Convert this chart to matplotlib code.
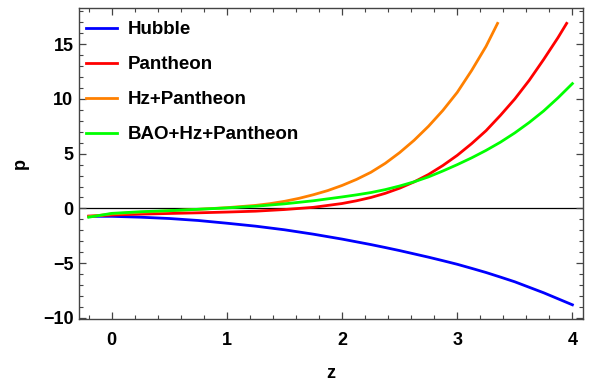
import numpy as np
import matplotlib
matplotlib.use("Agg")
import matplotlib.pyplot as plt
from matplotlib.ticker import MultipleLocator

plt.rcParams['font.family'] = ['Liberation Sans', 'DejaVu Sans']
plt.rcParams['font.weight'] = 'bold'

# values
z = [-0.2, 0.0, 0.25, 0.5, 0.75, 1.0, 1.25, 1.5, 1.75, 2.0, 2.125, 2.25, 2.375, 2.5,
     2.625, 2.75, 2.875, 3.0, 3.125, 3.25, 3.375, 3.5, 3.625, 3.75, 3.875, 4.0]
hubble = [-0.72, -0.72, -0.8, -0.92, -1.1, -1.35, -1.62, -1.95, -2.35, -2.8, -3.05, -3.3, -3.57, -3.85,
          -4.15, -4.45, -4.77, -5.1, -5.47, -5.85, -6.27, -6.7, -7.2, -7.7, -8.25, -8.8]
bao_hz_pan = [-0.8, -0.45, -0.3, -0.2, -0.08, 0.05, 0.2, 0.42, 0.7, 1.05, 1.24, 1.45, 1.72, 2.05,
              2.43, 2.88, 3.42, 4.0, 4.62, 5.3, 6.05, 6.9, 7.85, 8.9, 10.1, 11.4]

z_pan = [-0.2, 0.0, 0.25, 0.5, 0.75, 1.0, 1.25, 1.5, 1.75, 2.0, 2.125, 2.25, 2.375, 2.5,
         2.625, 2.75, 2.875, 3.0, 3.125, 3.25, 3.375, 3.5, 3.625, 3.75, 3.875, 3.95]
pantheon = [-0.7, -0.6, -0.52, -0.46, -0.4, -0.33, -0.25, -0.1, 0.1, 0.45, 0.7, 1.0, 1.38, 1.85,
            2.42, 3.1, 3.92, 4.85, 5.92, 7.1, 8.5, 10.0, 11.7, 13.6, 15.6, 16.9]

z_hz = [-0.2, 0.0, 0.25, 0.5, 0.75, 1.0, 1.25, 1.375, 1.5, 1.625, 1.75, 1.875, 2.0, 2.125, 2.25,
        2.375, 2.5, 2.625, 2.75, 2.875, 3.0, 3.125, 3.25, 3.35]
hz_pan = [-0.75, -0.5, -0.35, -0.22, -0.08, 0.07, 0.28, 0.44, 0.65, 0.92, 1.25, 1.63, 2.1, 2.65, 3.3,
          4.12, 5.1, 6.22, 7.5, 8.95, 10.6, 12.6, 14.8, 16.9]

fig = plt.figure(figsize=(5.92, 3.83), dpi=100)
ax = fig.add_axes([0.1334, 0.167, 0.851, 0.812])

ax.axhline(0, color='black', lw=0.9, zorder=1)
ax.plot(z, hubble, color=(0, 0, 1), lw=2, label='Hubble')
ax.plot(z_pan, pantheon, color=(1, 0, 0), lw=2, label='Pantheon')
ax.plot(z_hz, hz_pan, color=(1, 0.5, 0), lw=2, label='Hz+Pantheon')
ax.plot(z, bao_hz_pan, color=(0, 1, 0), lw=2, label='BAO+Hz+Pantheon')

ax.set_xlim(-0.285, 4.09)
ax.set_ylim(-10.1, 18.3)
ax.xaxis.set_major_locator(MultipleLocator(1))
ax.xaxis.set_minor_locator(MultipleLocator(0.2))
ax.yaxis.set_major_locator(MultipleLocator(5))
ax.yaxis.set_minor_locator(MultipleLocator(1))
ax.tick_params(which='both', direction='in', top=True, right=True,
               color='#444444', labelsize=13)
ax.tick_params(axis='x', pad=9)
ax.tick_params(axis='y', pad=4)
ax.tick_params(which='major', length=5, width=0.9)
ax.tick_params(which='minor', length=3, width=0.8)
for s in ax.spines.values():
    s.set_color('#444444')
    s.set_linewidth(1.0)
ax.set_yticks([-10, -5, 0, 5, 10, 15])
ax.set_yticklabels(['\u221210', '\u22125', '0', '5', '10', '15'])

ax.set_xlabel('z', fontsize=13, fontweight='bold', labelpad=12)
ax.set_ylabel('p', fontsize=13, fontweight='bold', labelpad=10)

ax.legend(loc='upper left', bbox_to_anchor=(-0.012, 1.0), frameon=False,
          prop={'size': 13.5, 'weight': 'bold'}, handlelength=1.65,
          handletextpad=0.55, labelspacing=0.95, borderaxespad=0.3)

fig.savefig('out.png', dpi=100)
